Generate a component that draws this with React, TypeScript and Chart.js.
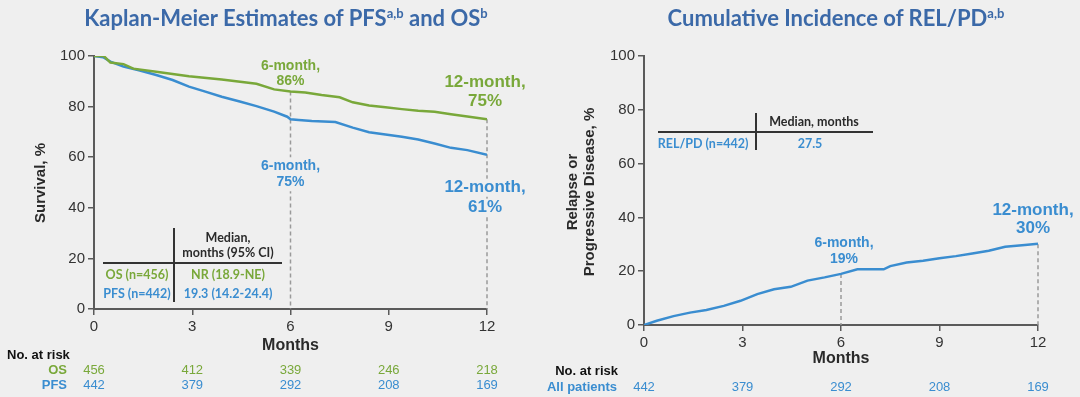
import React, { useEffect, useRef } from 'react';
import { Chart, registerables } from 'chart.js';

Chart.register(...registerables);

// ---------- DATA ----------
const osMonths = [0, 0.3, 0.5, 0.9, 1.2, 1.9, 2.9, 3.9, 4.96, 5.5, 6.0, 6.45, 6.95, 7.5, 7.9, 8.4, 8.9, 9.4, 9.9, 10.4, 10.9, 11.4, 12];
const osSurvival = [100, 100, 97.4, 96.8, 95, 93.8, 92, 90.7, 89, 86.8, 86, 85.6, 84.6, 83.7, 81.7, 80.4, 79.7, 79, 78.4, 78, 77, 76.1, 75];

const pfsMonths = [0, 0.28, 0.5, 0.9, 1.4, 1.9, 2.4, 2.9, 3.4, 3.9, 4.45, 4.96, 5.5, 5.9, 6.0, 6.25, 6.65, 7.37, 7.9, 8.4, 8.9, 9.4, 9.9, 10.4, 10.9, 11.4, 12];
const pfsSurvival = [100, 99.5, 97.8, 95.8, 94.3, 92.5, 90.5, 87.9, 85.9, 83.9, 82, 80.2, 78, 76, 75, 74.7, 74.3, 73.9, 71.7, 69.9, 69, 68.1, 67, 65.4, 63.7, 62.8, 61];

const relMonths = [0, 0.39, 0.9, 1.4, 1.9, 2.43, 2.94, 3.45, 3.96, 4.47, 4.98, 5.5, 6.0, 6.5, 7.3, 7.5, 8.0, 8.5, 9.0, 9.5, 10.0, 10.5, 11.0, 11.6, 12];
const relIncidence = [0, 1.6, 3.3, 4.6, 5.6, 7.1, 9.0, 11.5, 13.3, 14.2, 16.5, 17.7, 19, 20.7, 20.7, 21.9, 23.2, 23.9, 24.8, 25.6, 26.6, 27.6, 29.1, 29.7, 30.2];

const riskMonths = [0, 3, 6, 9, 12];
const osAtRisk = [456, 412, 339, 246, 218];
const pfsAtRisk = [442, 379, 292, 208, 169];
const allAtRisk = [442, 379, 292, 208, 169];

const milestoneMonths = [6, 12];
const osMilestones = [86, 75];
const pfsMilestones = [75, 61];
const relMilestones = [19, 30];

const medianHeader = ['Median,', 'months (95% CI)'];
const osMedianRow = ['OS (n=456)', 'NR (18.9-NE)'];
const pfsMedianRow = ['PFS (n=442)', '19.3 (14.2-24.4)'];
const relMedianHeader = 'Median, months';
const relMedianRow = ['REL/PD (n=442)', '27.5'];

// ---------- STYLE ----------
const BG = '#efefef';
const GREEN = '#79a83a';
const BLUE = '#3a8dd0';
const TITLE_BLUE = '#3b69a8';
const AXIS = '#5a5a5a';
const TEXT = '#2a2a2a';
const ARIAL = '"Liberation Sans", Arial, sans-serif';
const CAL = 'Lato, "Open Sans", sans-serif';

function txt(ctx: CanvasRenderingContext2D, s: string, x: number, y: number, font: string, color: string, align: CanvasTextAlign = 'center', mask = false) {
  ctx.font = font;
  ctx.textAlign = align;
  ctx.textBaseline = 'middle';
  if (mask) {
    const w = ctx.measureText(s).width;
    const left = align === 'center' ? x - w / 2 : align === 'right' ? x - w : x;
    ctx.fillStyle = BG;
    ctx.fillRect(left - 3, y - 9, w + 6, 18);
  }
  ctx.fillStyle = color;
  ctx.fillText(s, x, y);
}

function dashed(ctx: CanvasRenderingContext2D, x: number, y1: number, y2: number) {
  ctx.save();
  ctx.strokeStyle = '#9a9a9a';
  ctx.lineWidth = 1.5;
  ctx.setLineDash([4, 3]);
  ctx.beginPath();
  ctx.moveTo(x, y1);
  ctx.lineTo(x, y2);
  ctx.stroke();
  ctx.restore();
}

function line(ctx: CanvasRenderingContext2D, x1: number, y1: number, x2: number, y2: number) {
  ctx.save();
  ctx.strokeStyle = '#333';
  ctx.lineWidth = 2;
  ctx.beginPath();
  ctx.moveTo(x1, y1);
  ctx.lineTo(x2, y2);
  ctx.stroke();
  ctx.restore();
}

function axisOpts(min: number, max: number, step: number, fit: (s: any) => void) {
  return {
    type: 'linear' as const,
    min,
    max,
    afterFit: fit,
    ticks: { stepSize: step, color: '#333', font: { family: ARIAL, size: 15 }, padding: 3 },
    grid: { drawOnChartArea: false, drawTicks: true, tickLength: 6, color: AXIS, lineWidth: 1.5 },
    border: { display: true, color: AXIS, width: 2 },
  };
}

const leftPlugin = {
  id: 'leftAnno',
  beforeDatasetsDraw(chart: any) {
    const { ctx, scales: { x, y } } = chart;
    milestoneMonths.forEach((m, i) => {
      dashed(ctx, x.getPixelForValue(m), y.getPixelForValue(osMilestones[i]), y.getPixelForValue(0));
    });
  },
  afterDraw(chart: any) {
    const { ctx, scales: { x, y } } = chart;
    ctx.save();
    // milestone labels
    const x6 = x.getPixelForValue(milestoneMonths[0]);
    const x12 = x.getPixelForValue(milestoneMonths[1]) - 2;
    const fS = `bold 14px ${ARIAL}`;
    const fL = `bold 17px ${ARIAL}`;
    let yy = y.getPixelForValue(osMilestones[0]);
    txt(ctx, `${milestoneMonths[0]}-month,`, x6, yy - 25, fS, GREEN);
    txt(ctx, `${osMilestones[0]}%`, x6, yy - 10, fS, GREEN);
    yy = y.getPixelForValue(osMilestones[1]);
    txt(ctx, `${milestoneMonths[1]}-month,`, x12, yy - 37, fL, GREEN);
    txt(ctx, `${osMilestones[1]}%`, x12, yy - 18, fL, GREEN);
    yy = y.getPixelForValue(pfsMilestones[0]);
    txt(ctx, `${milestoneMonths[0]}-month,`, x6, yy + 47, fS, BLUE, 'center', true);
    txt(ctx, `${pfsMilestones[0]}%`, x6, yy + 63, fS, BLUE, 'center', true);
    yy = y.getPixelForValue(pfsMilestones[1]);
    txt(ctx, `${milestoneMonths[1]}-month,`, x12, yy + 33, fL, BLUE, 'center', true);
    txt(ctx, `${pfsMilestones[1]}%`, x12, yy + 53, fL, BLUE, 'center', true);

    // axis titles
    txt(ctx, 'Months', x.getPixelForValue(6), 346, `bold 16px ${ARIAL}`, TEXT);
    ctx.save();
    ctx.translate(41, 183);
    ctx.rotate(-Math.PI / 2);
    txt(ctx, 'Survival, %', 0, 0, `bold 15px ${ARIAL}`, TEXT);
    ctx.restore();

    // median table
    line(ctx, 174, 228, 174, 302);
    line(ctx, 103, 263, 282, 263);
    txt(ctx, medianHeader[0], 228, 238, `bold 12.5px ${CAL}`, TEXT);
    txt(ctx, medianHeader[1], 228, 253, `bold 12.5px ${CAL}`, TEXT);
    txt(ctx, osMedianRow[0], 137, 275, `bold 12.5px ${CAL}`, GREEN);
    txt(ctx, osMedianRow[1], 228, 275, `bold 12.5px ${CAL}`, GREEN);
    txt(ctx, pfsMedianRow[0], 137, 294, `bold 12.5px ${CAL}`, BLUE);
    txt(ctx, pfsMedianRow[1], 228, 294, `bold 12.5px ${CAL}`, BLUE);

    // risk table
    txt(ctx, 'No. at risk', 7, 355, `bold 13px ${ARIAL}`, '#111', 'left');
    txt(ctx, 'OS', 67, 370, `bold 13px ${ARIAL}`, GREEN, 'right');
    txt(ctx, 'PFS', 67, 385, `bold 13px ${ARIAL}`, BLUE, 'right');
    riskMonths.forEach((m, i) => {
      const px = x.getPixelForValue(m);
      txt(ctx, String(osAtRisk[i]), px, 370, `13px ${ARIAL}`, GREEN);
      txt(ctx, String(pfsAtRisk[i]), px, 385, `13px ${ARIAL}`, BLUE);
    });
    ctx.restore();
  },
};

const rightPlugin = {
  id: 'rightAnno',
  beforeDatasetsDraw(chart: any) {
    const { ctx, scales: { x, y } } = chart;
    milestoneMonths.forEach((m, i) => {
      dashed(ctx, x.getPixelForValue(m), y.getPixelForValue(relMilestones[i]), y.getPixelForValue(0));
    });
  },
  afterDraw(chart: any) {
    const { ctx, scales: { x, y } } = chart;
    ctx.save();
    const x6 = x.getPixelForValue(milestoneMonths[0]) + 3;
    const x12 = x.getPixelForValue(milestoneMonths[1]) - 5;
    let yy = y.getPixelForValue(relMilestones[0]);
    txt(ctx, `${milestoneMonths[0]}-month,`, x6, yy - 31, `bold 14px ${ARIAL}`, BLUE);
    txt(ctx, `${relMilestones[0]}%`, x6, yy - 15, `bold 14px ${ARIAL}`, BLUE);
    yy = y.getPixelForValue(relMilestones[1]);
    txt(ctx, `${milestoneMonths[1]}-month,`, x12, yy - 34, `bold 17px ${ARIAL}`, BLUE);
    txt(ctx, `${relMilestones[1]}%`, x12, yy - 16, `bold 17px ${ARIAL}`, BLUE);

    txt(ctx, 'Months', x.getPixelForValue(6), 359, `bold 16px ${ARIAL}`, TEXT);
    ctx.save();
    ctx.translate(0, 192);
    ctx.rotate(-Math.PI / 2);
    txt(ctx, 'Relapse or', 0, 33, `bold 15px ${ARIAL}`, TEXT);
    txt(ctx, 'Progressive Disease, %', 0, 50, `bold 15px ${ARIAL}`, TEXT);
    ctx.restore();

    line(ctx, 216, 113, 216, 150);
    line(ctx, 118, 132, 333, 132);
    txt(ctx, relMedianHeader, 274, 122, `bold 12.5px ${CAL}`, TEXT);
    txt(ctx, relMedianRow[0], 163, 144, `bold 12.5px ${CAL}`, BLUE);
    txt(ctx, relMedianRow[1], 270, 144, `bold 12.5px ${CAL}`, BLUE);

    txt(ctx, 'No. at risk', 78, 371, `bold 13px ${ARIAL}`, '#111', 'right');
    txt(ctx, 'All patients', 77, 387, `bold 13px ${ARIAL}`, BLUE, 'right');
    riskMonths.forEach((m, i) => {
      txt(ctx, String(allAtRisk[i]), x.getPixelForValue(m), 387, `13px ${ARIAL}`, BLUE);
    });
    ctx.restore();
  },
};

export default function App() {
  const leftRef = useRef<HTMLCanvasElement>(null);
  const rightRef = useRef<HTMLCanvasElement>(null);

  useEffect(() => {
    const lineDs = (label: string, xs: number[], ys: number[], color: string) => ({
      label,
      data: xs.map((m, i) => ({ x: m, y: ys[i] })),
      borderColor: color,
      borderWidth: 2.5,
      pointRadius: 0,
      tension: 0,
      fill: false,
    });

    const common = {
      responsive: false,
      animation: false as const,
      devicePixelRatio: 1,
      plugins: { legend: { display: false }, tooltip: { enabled: false }, title: { display: false } },
      events: [] as any[],
    };

    const c1 = new Chart(leftRef.current!, {
      type: 'line',
      data: {
        datasets: [
          lineDs('OS', osMonths, osSurvival, GREEN),
          lineDs('PFS', pfsMonths, pfsSurvival, BLUE),
        ],
      },
      options: {
        ...common,
        layout: { padding: { left: 0, right: 53, top: 56, bottom: 0 } },
        scales: {
          x: axisOpts(0, 12, 3, (s: any) => { s.height = 88; }),
          y: axisOpts(0, 100, 20, (s: any) => { s.width = 94; }),
        },
      } as any,
      plugins: [leftPlugin],
    });

    const c2 = new Chart(rightRef.current!, {
      type: 'line',
      data: {
        datasets: [lineDs('REL/PD', relMonths, relIncidence, BLUE)],
      },
      options: {
        ...common,
        layout: { padding: { left: 0, right: 42, top: 56, bottom: 0 } },
        scales: {
          x: axisOpts(0, 12, 3, (s: any) => { s.height = 72; }),
          y: axisOpts(0, 100, 20, (s: any) => { s.width = 104; }),
        },
      } as any,
      plugins: [rightPlugin],
    });

    return () => {
      c1.destroy();
      c2.destroy();
    };
  }, []);

  const titleStyle: React.CSSProperties = {
    position: 'absolute',
    top: 5,
    textAlign: 'center',
    fontFamily: CAL,
    fontWeight: 700,
    fontSize: 22,
    lineHeight: '26px',
    color: TITLE_BLUE,
    whiteSpace: 'nowrap',
    zIndex: 2,
  };
  const supStyle: React.CSSProperties = { fontSize: 13, verticalAlign: 8, lineHeight: 0 };

  return (
    <div style={{ position: 'fixed', left: 0, top: 0, width: 1080, height: 397, background: BG, overflow: 'hidden' }}>
      <div style={{ position: 'absolute', left: 0, top: 0 }}>
        <canvas ref={leftRef} width={540} height={397} style={{ display: 'block' }} />
      </div>
      <div style={{ position: 'absolute', left: 540, top: 0 }}>
        <canvas ref={rightRef} width={540} height={397} style={{ display: 'block' }} />
      </div>
      <div style={{ ...titleStyle, left: 0, width: 572 }}>
        Kaplan-Meier Estimates of PFS<span style={supStyle}>a,b</span> and OS<span style={supStyle}>b</span>
      </div>
      <div style={{ ...titleStyle, left: 636, width: 400 }}>
        Cumulative Incidence of REL/PD<span style={supStyle}>a,b</span>
      </div>
    </div>
  );
}
